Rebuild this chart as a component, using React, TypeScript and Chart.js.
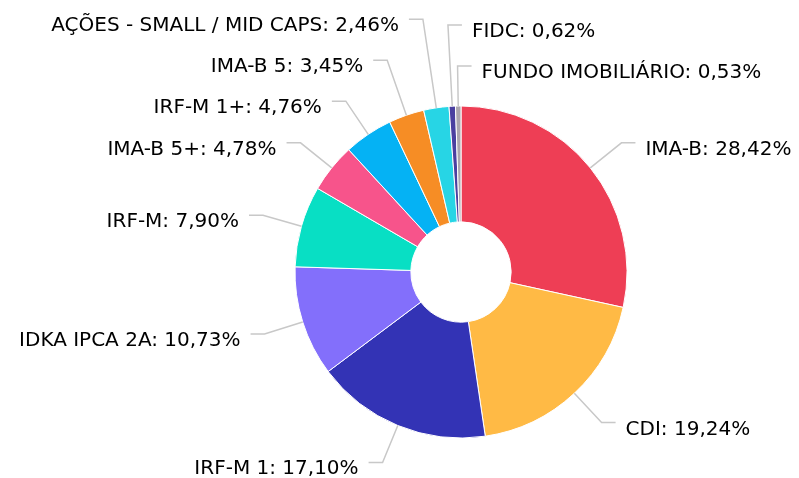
import React, { useEffect, useRef } from "react";
import { Chart, registerables } from "chart.js";

Chart.register(...registerables);

const categories = [
  "IMA-B",
  "CDI",
  "IRF-M 1",
  "IDKA IPCA 2A",
  "IRF-M",
  "IMA-B 5+",
  "IRF-M 1+",
  "IMA-B 5",
  "AÇÕES - SMALL / MID CAPS",
  "FIDC",
  "FUNDO IMOBILIÁRIO",
];
const values = [28.42, 19.24, 17.1, 10.73, 7.9, 4.78, 4.76, 3.45, 2.46, 0.62, 0.53];
const colors = [
  "#EE3E55",
  "#FFBA45",
  "#3333B5",
  "#836FFB",
  "#08DFC4",
  "#F7548B",
  "#05B2F4",
  "#F68D25",
  "#27D5E5",
  "#4A3FA0",
  "#ABA5AE",
];

const FONT = "20px 'DejaVu Sans', sans-serif";
const LABEL_DIST = 40; // beyond outer radius
const LABEL_GAP = 41;
const HSEG = 14;
const TEXT_PAD = 24;

const fmt = (v: number) => v.toFixed(2).replace(".", ",") + "%";

const outsideLabels = {
  id: "outsideLabels",
  afterDatasetsDraw(chart: any) {
    const meta = chart.getDatasetMeta(0);
    const ctx = chart.ctx;
    const items: any[] = [];
    meta.data.forEach((arc: any, i: number) => {
      const { x: cx, y: cy, startAngle, endAngle, outerRadius } = arc.getProps(
        ["x", "y", "startAngle", "endAngle", "outerRadius"],
        true
      );
      const mid = (startAngle + endAngle) / 2;
      const c = Math.cos(mid);
      const s = Math.sin(mid);
      const R2 = outerRadius + LABEL_DIST;
      // angle measured clockwise from top, in degrees
      let th = ((mid + Math.PI / 2) * 180) / Math.PI;
      th = ((th % 360) + 360) % 360;
      const right = c > -0.1;
      items.push({
        i,
        cx,
        cy,
        c,
        s,
        r: outerRadius,
        natY: cy + R2 * s,
        right,
        key: right ? (th > 180 ? th - 360 : th) : -th,
        R2,
      });
    });
    const place = (side: any[]) => {
      side.sort((a, b) => a.key - b.key);
      for (let k = side.length - 1; k >= 0; k--) {
        const it = side[k];
        it.y = it.natY;
        if (k < side.length - 1) it.y = Math.min(it.y, side[k + 1].y - LABEL_GAP);
      }
    };
    place(items.filter((it) => it.right));
    place(items.filter((it) => !it.right));

    ctx.save();
    ctx.font = FONT;
    ctx.strokeStyle = "#C8C8C8";
    ctx.lineWidth = 1.5;
    ctx.fillStyle = "#000000";
    ctx.textBaseline = "alphabetic";
    items.forEach((it) => {
      const ex = it.cx + it.r * it.c;
      const ey = it.cy + it.r * it.s;
      let t = Math.abs(it.s) > 0.05 ? (it.y - it.cy) / it.s : it.R2;
      if (t < it.r + 5) t = it.R2;
      const bx = it.cx + t * it.c;
      const dir = it.right ? 1 : -1;
      ctx.beginPath();
      ctx.moveTo(ex, ey);
      ctx.lineTo(bx, it.y);
      ctx.lineTo(bx + dir * HSEG, it.y);
      ctx.stroke();
      ctx.textAlign = it.right ? "left" : "right";
      ctx.fillText(
        categories[it.i] + ": " + fmt(values[it.i]),
        bx + dir * TEXT_PAD,
        it.y + 12
      );
    });
    ctx.restore();
  },
};

export default function App() {
  const ref = useRef<HTMLCanvasElement>(null);
  useEffect(() => {
    if (!ref.current) return;
    const chart = new Chart(ref.current, {
      type: "doughnut",
      data: {
        labels: categories,
        datasets: [
          {
            data: values,
            backgroundColor: colors,
            borderColor: "#ffffff",
            borderWidth: 1,
          },
        ],
      },
      options: {
        animation: false,
        responsive: false,
        radius: 166,
        cutout: 50,
        layout: { padding: { left: 295, top: 106, right: 172, bottom: 40 } },
        plugins: {
          legend: { display: false },
          tooltip: { enabled: false },
        },
      },
      plugins: [outsideLabels],
    });
    return () => chart.destroy();
  }, []);
  return (
    <div style={{ position: "fixed", left: 0, top: 0, width: 799, height: 478, background: "#fff" }}>
      <canvas ref={ref} width={799} height={478} style={{ width: 799, height: 478 }} />
    </div>
  );
}
